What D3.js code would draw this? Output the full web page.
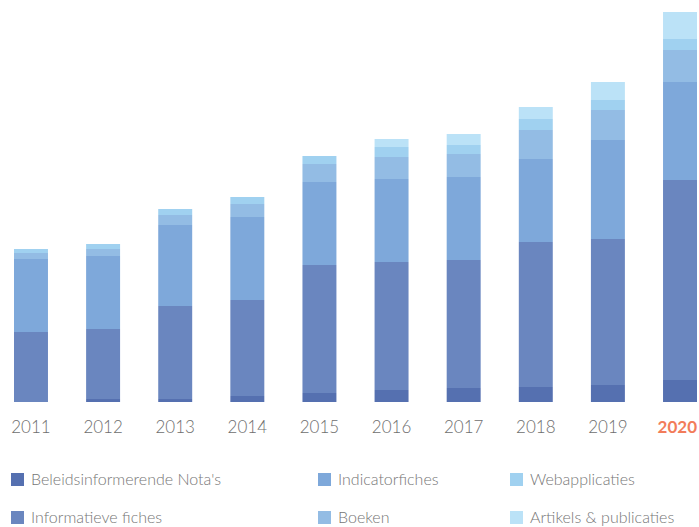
<!DOCTYPE html>
<html>
<head>
<meta charset="utf-8">
<script src="https://cdn.jsdelivr.net/npm/d3@7"></script>
<style>
  html, body { margin: 0; padding: 0; background: #fff; }
  svg { display: block; }
  text { font-family: Lato, "Open Sans", sans-serif; font-weight: 300; }
</style>
</head>
<body>
<svg id="chart" width="699" height="527"></svg>
<script>
const years = ["2011","2012","2013","2014","2015","2016","2017","2018","2019","2020"];
const seriesNames = ["Beleidsinformerende Nota's","Informatieve fiches","Indicatorfiches","Boeken","Webapplicaties","Artikels & publicaties"];
const beleidsNotas   = [0, 3, 3, 6, 9, 12, 14, 15, 17, 22];
const informatieve   = [70, 70, 93, 96, 128, 128, 128, 145, 146, 200];
const indicatorfiches= [73, 73, 81, 83, 83, 83, 83, 83, 99, 98];
const boeken         = [6, 7, 10, 13, 18, 22, 23, 29, 30, 32];
const webapplicaties = [4, 5, 6, 7, 8, 10, 9, 11, 10, 11];
const artikels       = [0, 0, 0, 0, 0, 8, 11, 12, 18, 27];
const colors = ["#5570b0","#6a86bf","#7ea8da","#93bce4","#a0d1f0","#bbe2f7"];
const highlightYear = "2020";

const seriesValues = [beleidsNotas, informatieve, indicatorfiches, boeken, webapplicaties, artikels];
const keys = seriesNames;
const table = years.map((y, i) => {
  const row = { year: y };
  keys.forEach((k, j) => row[k] = seriesValues[j][i]);
  return row;
});
const stacked = d3.stack().keys(keys)(table);

const W = 699;
const svg = d3.select("#chart");
const x = d3.scaleBand().domain(years).range([14, 697]).paddingInner(0.529).paddingOuter(0);
const y = d3.scaleLinear().domain([0, 390]).range([402, 12]);

svg.append("g").selectAll("g").data(stacked).join("g")
  .attr("fill", (d, i) => colors[i])
  .selectAll("rect").data(d => d).join("rect")
  .attr("x", d => x(d.data.year))
  .attr("width", x.bandwidth())
  .attr("y", d => y(d[1]))
  .attr("height", d => Math.max(0, y(d[0]) - y(d[1])));

const xAxis = svg.append("g").attr("transform", "translate(0,402)")
  .call(d3.axisBottom(x).tickSize(0).tickPadding(0));
xAxis.select(".domain").remove();
xAxis.selectAll("text")
  .attr("y", 31)
  .attr("dy", 0)
  .style("font-family", "Lato, 'Open Sans', sans-serif")
  .style("font-size", "17px")
  .style("font-weight", d => d === highlightYear ? 700 : 300)
  .attr("fill", d => d === highlightYear ? "#f27c5a" : "#6e6e6e")
  .each(function(d) {
    const cx = x(d) + x.bandwidth() / 2;
    const w = this.getComputedTextLength();
    const overflow = cx + w / 2 - (W - 2);
    if (overflow > 0) d3.select(this).attr("x", -overflow);
  });

const legendPos = [[11,473],[11,511],[318,473],[318,511],[510,473],[510,511]];
const lg = svg.append("g").selectAll("g").data(keys).join("g")
  .attr("transform", (d, i) => `translate(${legendPos[i][0]},${legendPos[i][1]})`);
lg.append("rect").attr("width", 13).attr("height", 13).attr("fill", (d, i) => colors[i]);
lg.append("text").attr("x", 20).attr("y", 12)
  .style("font-size", "16px").attr("fill", "#767676").text(d => d);
</script>
</body>
</html>
